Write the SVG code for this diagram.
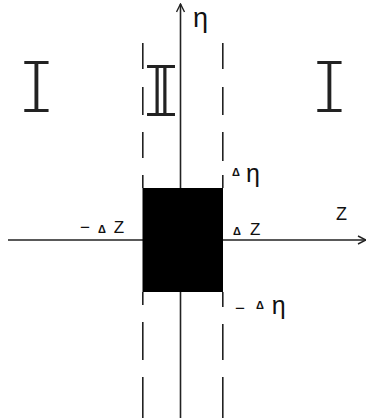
<svg xmlns="http://www.w3.org/2000/svg" width="366" height="418" viewBox="0 0 366 418">
<defs>
<style>
.ln{stroke:#222;stroke-width:1.6;fill:none}
.dash{stroke:#222;stroke-width:1.6;fill:none}
.t{font-family:"Liberation Sans",Arial,sans-serif;fill:#111}
.d{font-weight:bold}
.rn{font-family:Inter,"Liberation Mono",monospace;font-weight:200;font-feature-settings:"cv08" 1;fill:#222}
</style>
<marker id="arr" viewBox="0 0 10 10" refX="9" refY="5" markerWidth="10" markerHeight="10" markerUnits="userSpaceOnUse" orient="auto">
<path d="M1,1 L9,5 L1,9" fill="none" stroke="#222" stroke-width="1.4"/>
</marker>
</defs>
<rect width="366" height="418" fill="#fff"/>
<g id="connectors">
<line class="ln" x1="180.5" y1="418" x2="180.5" y2="4" marker-end="url(#arr)"/>
<line class="ln" x1="8" y1="240" x2="366" y2="240" marker-end="url(#arr)"/>
</g>
<g id="dashed-lines">
<path class="dash" d="M142.8,43V69M142.8,87V115M142.8,132V158M142.8,175V188M142.8,292V305M142.8,322V360M142.8,377V418"/>
<path class="dash" d="M222.8,43V69M222.8,87V115M222.8,132V161M222.8,175V188M222.8,292V307M222.8,324V360M222.8,377V418"/>
</g>
<g id="box"><rect x="142.5" y="188" width="80.5" height="104" fill="#000"/></g>
<g id="label-eta"><text class="t" x="193" y="27" font-size="27">η</text></g>
<g id="region-I-left"><text class="rn" x="0" y="0" font-size="70" text-anchor="middle" transform="translate(36.5,111.5) scale(1.2,1)">I</text></g>
<g id="region-II"><text class="rn" x="151" y="116" font-size="70" text-anchor="middle" letter-spacing="-20">II</text></g>
<g id="region-I-right"><text class="rn" x="0" y="0" font-size="70" text-anchor="middle" transform="translate(329.5,111.5) scale(1.2,1)">I</text></g>
<g id="label-deta"><text class="t" x="232" y="182"><tspan class="d" font-size="11" dy="-6">Δ</tspan><tspan font-size="25" dx="6" dy="6">η</tspan></text></g>
<g id="label-mdz"><text class="t" x="80" y="233"><tspan font-size="17">−</tspan><tspan class="d" font-size="11" dx="8">Δ</tspan><tspan font-size="17" dx="8">Z</tspan></text></g>
<g id="label-dz"><text class="t" x="233" y="235"><tspan class="d" font-size="11">Δ</tspan><tspan font-size="17" dx="9">Z</tspan></text></g>
<g id="label-z"><text class="t" x="336" y="220" font-size="18">Z</text></g>
<g id="label-mdeta"><text class="t" x="235" y="314"><tspan font-size="17">−</tspan><tspan class="d" font-size="11" dx="11" dy="-5">Δ</tspan><tspan font-size="25" dx="8" dy="5">η</tspan></text></g>
</svg>
